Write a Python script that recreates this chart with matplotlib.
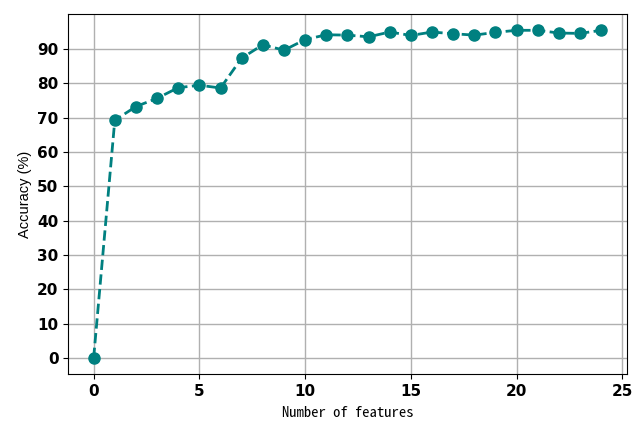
import matplotlib
matplotlib.use("Agg")
import matplotlib.pyplot as plt

n_features = list(range(25))
accuracy = [0, 69.2, 73.2, 75.6, 78.7, 79.4, 78.6, 87.3, 91.2, 89.6, 92.7,
            94.1, 94.0, 93.5, 94.9, 93.9, 94.9, 94.4, 94.0, 94.8, 95.4,
            95.4, 94.6, 94.5, 95.4]

fig, ax = plt.subplots(figsize=(6.32, 4.22), dpi=100)
fig.subplots_adjust(left=0.108, right=0.9915, top=0.967, bottom=0.113)
ax.plot(n_features, accuracy, '--o', color='teal', linewidth=2, markersize=8)
ax.grid(True, color='#b0b0b0', linewidth=1)
ax.set_axisbelow(True)

ax.set_yticks(range(0, 100, 10))
ax.set_xticks(range(0, 26, 5))
for lab in ax.get_xticklabels() + ax.get_yticklabels():
    lab.set_fontweight('bold')
    lab.set_fontsize(11)

fam = ['Noto Sans Mono CJK SC', 'Noto Sans CJK SC', 'DejaVu Sans']
ax.set_xlabel('Number of features', fontsize=10.5, family=fam, labelpad=5)
ax.set_ylabel('Accuracy (%)', fontsize=10.5, family=['Liberation Sans', 'DejaVu Sans'])

plt.savefig('out.png')
